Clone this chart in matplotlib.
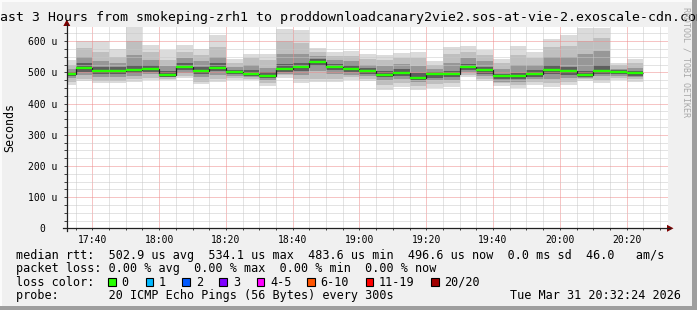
import matplotlib
matplotlib.use("Agg")
import matplotlib.pyplot as plt
import numpy as np
from matplotlib.patches import Rectangle, Polygon
from matplotlib.lines import Line2D
from matplotlib.ticker import MultipleLocator, FixedLocator

W, H = 697, 310

# ---------------- data ----------------
first_bar = "17:30"
step_min = 5
p_min = [461, 472, 465, 465, 470, 477, 475, 481, 464, 470, 477, 475, 456, 482, 466, 468, 470, 477,
         472, 445, 454, 445, 450, 454, 486, 473, 457, 450, 461, 452, 461, 472, 465, 475, 470]
p_10 = [470, 480, 472, 472, 478, 482, 480, 488, 470, 478, 482, 480, 465, 490, 478, 480, 480, 485,
        480, 458, 465, 455, 462, 465, 492, 480, 465, 460, 470, 465, 470, 478, 475, 482, 478]
p_25 = [482, 490, 485, 485, 488, 495, 484, 498, 485, 493, 488, 485, 474, 496, 493, 505, 495, 493,
        488, 474, 478, 468, 474, 476, 500, 488, 470, 470, 478, 480, 482, 482, 488, 488, 484]
core_lo = [487, 502, 494, 494, 497, 502, 486, 506, 494, 503, 494, 489, 481, 502, 504, 520, 506, 501,
           496, 484, 489, 476, 482, 484, 507, 496, 478, 478, 486, 494, 493, 484, 496, 494, 489]
median = [494, 514, 505, 505, 507, 512, 491, 516, 505, 514, 501, 495, 488, 510, 516, 532, 518, 511,
          504, 492, 499, 482, 494, 494, 517, 507, 487, 487, 496, 507, 504, 492, 505, 502, 497]
core_hi = [502, 530, 518, 518, 525, 525, 503, 530, 518, 530, 508, 506, 500, 528, 530, 542, 527, 522,
           513, 503, 510, 497, 502, 505, 528, 518, 496, 498, 506, 522, 518, 505, 525, 507, 505]
p_75 = [510, 550, 535, 530, 555, 540, 520, 545, 535, 550, 518, 525, 515, 560, 560, 552, 538, 535,
        525, 520, 528, 520, 512, 530, 545, 535, 510, 525, 522, 550, 550, 560, 570, 512, 515]
p_90 = [525, 577, 565, 550, 600, 565, 540, 565, 555, 580, 530, 545, 540, 600, 595, 565, 552, 552,
        542, 540, 545, 545, 525, 560, 565, 555, 530, 555, 545, 580, 585, 600, 610, 522, 530]
p_max = [540, 601, 601, 575, 645, 588, 571, 587, 574, 620, 542, 560, 558, 640, 635, 577, 565, 569,
         558, 556, 561, 565, 537, 581, 583, 572, 543, 583, 565, 607, 620, 642, 642, 531, 543]

x_tick_labels = ["17:40", "18:00", "18:20", "18:40", "19:00", "19:20", "19:40", "20:00", "20:20"]
y_tick_values = [0, 100, 200, 300, 400, 500, 600]
y_tick_labels = ["0  ", "100 u", "200 u", "300 u", "400 u", "500 u", "600 u"]

loss_labels = ["0", "1", "2", "3", "4-5", "6-10", "11-19", "20/20"]
loss_colors = ["#26ff00", "#00b8ff", "#0059ff", "#7e00ff", "#ff00ff", "#ff5500", "#ff0000", "#a10000"]

title = "Last 3 Hours from smokeping-zrh1 to proddownloadcanary2vie2.sos-at-vie-2.exoscale-cdn.com"
legend_lines = [
    "median rtt:  502.9 us avg  534.1 us max  483.6 us min  496.6 us now  0.0 ms sd  46.0   am/s",
    "packet loss: 0.00 % avg  0.00 % max  0.00 % min  0.00 % now",
    "loss color:",
    "probe:       20 ICMP Echo Pings (56 Bytes) every 300s",
]
stamp = "Tue Mar 31 20:32:24 2026"


def hm(s):
    h, m = s.split(":")
    return int(h) * 60 + int(m)


def fx(x):
    return x / W


def fy(y):
    return 1 - y / H


MONO = "DejaVu Sans Mono"

fig = plt.figure(figsize=(W / 100, H / 100), dpi=100, facecolor="#f0f0f0")

# frame shading
fig.add_artist(Rectangle((0, fy(2)), 1, 2 / H, transform=fig.transFigure, color="#fbfbfb", lw=0))
fig.add_artist(Rectangle((0, 0), 2 / W, 1, transform=fig.transFigure, color="#fbfbfb", lw=0))
fig.add_artist(Rectangle((0, 0), 1, 4 / H, transform=fig.transFigure, color="#9e9e9e", lw=0))
fig.add_artist(Rectangle((fx(692), 0), 5 / W, 1, transform=fig.transFigure, color="#9e9e9e", lw=0))

left, right, top, bottom = 67, 668, 26.5, 228.3
ax = fig.add_axes([fx(left), fy(bottom), fx(right - left), (bottom - top) / H])
ax.set_facecolor("white")

t_end = hm("20:32") + 0.4
t_start = t_end - 180
ax.set_xlim(t_start, t_end)
ax.set_ylim(0, 647)

n = len(median)
xs = hm(first_bar) + step_min * np.arange(n)

layers = [
    (p_min, p_max, "#dbdbdb"),
    (p_10, p_90, "#bfbfbf"),
    (p_25, p_75, "#979797"),
    (core_lo, core_hi, "#5e5e5e"),
]
for lo, hi, col in layers:
    lo = np.array(lo, float)
    hi = np.array(hi, float)
    ax.bar(xs, hi - lo, bottom=lo, width=step_min, align="edge", color=col, lw=0, zorder=1)

edges = np.append(xs, xs[-1] + step_min)
ax.stairs(median, edges, baseline=None, color="#202020", lw=0.9, zorder=3)
ax.hlines(median, xs, xs + step_min, color=loss_colors[0], lw=1.7, zorder=4)

# grid
ax.xaxis.set_major_locator(FixedLocator([hm(s) for s in x_tick_labels]))
ax.xaxis.set_minor_locator(MultipleLocator(5))
ax.set_xticklabels(x_tick_labels)
ax.yaxis.set_major_locator(FixedLocator(y_tick_values))
ax.yaxis.set_minor_locator(MultipleLocator(25))
ax.set_yticklabels(y_tick_labels)
ax.set_axisbelow(False)
ax.grid(which="minor", color="#c8c8c8", lw=0.72, ls=(0, (1, 1)))
ax.grid(which="major", color="#ee8a8a", lw=0.72, ls=(0, (1, 1)))

for sp in ax.spines.values():
    sp.set_visible(False)

ax.tick_params(which="both", direction="out", color="#404040", width=0.7, labelsize=7,
               labelfontfamily=MONO)
ax.tick_params(axis="y", which="both", length=2.2, pad=4.5)
ax.tick_params(axis="x", which="both", length=1.5, pad=3.5)

# axis lines and arrows
fig.add_artist(Line2D([fx(63), fx(670)], [fy(bottom), fy(bottom)], transform=fig.transFigure,
                      color="#202020", lw=0.9))
fig.add_artist(Line2D([fx(66.8), fx(66.8)], [fy(bottom + 3), fy(24)], transform=fig.transFigure,
                      color="#202020", lw=0.9))
fig.add_artist(Polygon([[fx(667), fy(bottom - 3.5)], [fx(667), fy(bottom + 3.5)], [fx(673.5), fy(bottom)]],
                       closed=True, transform=fig.transFigure, color="#7f0000", lw=0))
fig.add_artist(Polygon([[fx(63.3), fy(26)], [fx(70.3), fy(26)], [fx(66.8), fy(19.5)]],
                       closed=True, transform=fig.transFigure, color="#7f0000", lw=0))

# texts
fig.text(fx(348.5), fy(18), title, ha="center", va="center", family=MONO, fontsize=9.5)
fig.text(fx(10), fy(127), "Seconds", rotation=90, ha="center", va="center", family=MONO, fontsize=8.4)
fig.text(fx(686), fy(62), "RRDTOOL / TOBI OETIKER", rotation=270, ha="center", va="center",
         family=MONO, fontsize=6, color="#a8a8a8")

line_y = [255, 268.3, 282.3, 295.7]
for ty, txt in zip(line_y, legend_lines):
    fig.text(fx(16), fy(ty), txt, ha="left", va="center", family=MONO, fontsize=8.45)
fig.text(fx(680.5), fy(line_y[3]), stamp, ha="right", va="center", family=MONO, fontsize=8.45)

box_x = [108.3, 145.7, 182.3, 219.3, 256.7, 307.3, 365.7, 431.0]
for bx, lab, col in zip(box_x, loss_labels, loss_colors):
    fig.add_artist(Rectangle((fx(bx), fy(line_y[2] + 4)), 7.5 / W, 8 / H, transform=fig.transFigure,
                             facecolor=col, edgecolor="black", lw=0.8))
    fig.text(fx(bx + 13.4), fy(line_y[2]), lab, ha="left", va="center", family=MONO, fontsize=8.45)

fig.savefig("out.png", dpi=100, facecolor=fig.get_facecolor())
